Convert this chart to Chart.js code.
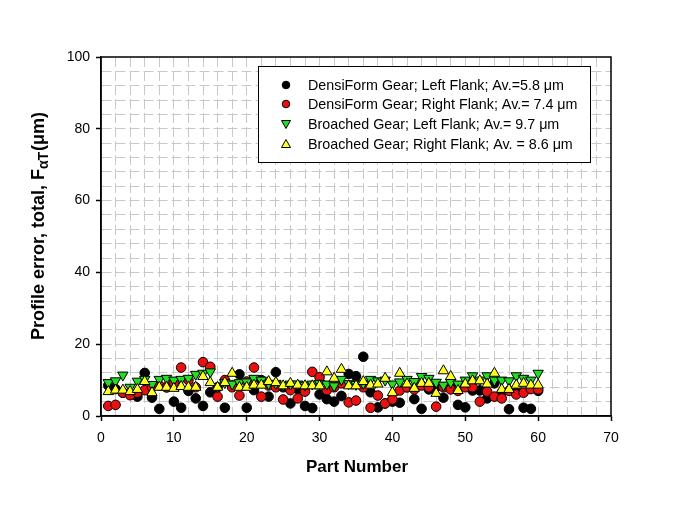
<!DOCTYPE html>
<html>
<head>
<meta charset="utf-8">
<script src="https://cdn.jsdelivr.net/npm/chart.js@4/dist/chart.umd.min.js"></script>
<style>
html,body{margin:0;padding:0;background:#fff;}
#wrap{width:684px;height:509px;}
</style>
</head>
<body>
<div id="wrap"><canvas id="c" width="684" height="509"></canvas></div>
<script>
const partNumbers = Array.from({length: 60}, (_, i) => i + 1);
const densiLeft = [8.5,7.5,6.5,6.0,5.4,12.0,5.1,2.0,8.0,4.0,2.3,7.0,4.9,2.8,6.6,8.0,2.3,8.5,11.6,2.3,7.2,10.0,5.4,12.2,8.0,3.5,7.5,2.8,2.2,6.0,4.7,4.0,5.6,11.7,11.1,16.5,6.6,2.4,3.5,4.0,3.7,8.0,4.7,2.0,7.4,8.0,5.1,8.0,3.1,2.4,7.1,7.1,4.9,9.1,6.5,1.9,7.5,2.3,2.0,7.0];
const densiRight = [2.8,3.1,6.5,5.8,6.5,7.2,8.0,8.5,8.0,9.3,13.5,10.0,8.0,15.0,13.7,5.4,10.0,8.0,5.7,9.6,13.5,5.4,8.5,8.0,4.6,7.2,4.9,6.8,12.3,10.8,7.2,8.0,9.1,3.8,4.3,8.0,2.3,5.7,3.5,4.6,7.1,8.0,7.4,8.5,8.0,2.6,8.0,7.4,7.0,8.0,8.0,4.0,6.8,5.4,4.9,7.0,6.0,6.5,7.5,7.4];
const broachedLeft = [9.3,9.8,11.4,8.0,9.7,10.2,8.8,10.2,10.5,10.0,10.2,10.5,11.6,11.9,12.3,8.2,9.3,8.9,9.3,9.5,10.5,10.0,9.0,9.1,8.6,8.9,8.9,8.6,8.9,9.1,8.9,8.4,10.2,9.0,8.8,9.1,10.2,9.8,10.0,8.9,9.5,10.2,9.6,11.0,10.5,9.4,8.6,9.4,8.9,10.0,11.2,10.0,11.2,10.0,10.0,9.8,11.2,10.5,10.0,11.9];
const broachedRight = [6.8,7.2,7.2,6.8,7.4,9.6,6.5,8.0,8.0,7.7,8.2,8.0,8.0,11.0,9.3,8.0,9.3,11.9,8.0,8.0,8.6,8.6,9.6,9.3,8.4,9.1,8.6,8.4,8.4,8.4,12.3,10.5,13.0,8.4,8.4,9.6,8.6,8.9,10.5,6.5,11.9,8.9,7.7,9.1,9.1,6.3,12.6,11.0,7.1,8.9,9.8,9.8,8.9,11.9,7.4,7.4,8.6,9.1,8.6,8.6];
const seriesLabels = [
  "DensiForm Gear; Left Flank; Av.=5.8 μm",
  "DensiForm Gear; Right Flank; Av.= 7.4 μm",
  "Broached Gear; Left Flank; Av.= 9.7 μm",
  "Broached Gear; Right Flank; Av. = 8.6 μm"
];
const xTitle = "Part Number";
const yTitleParts = ["Profile error, total, F", "αT", "(μm)"];

const FONT = "'Liberation Sans', Arial, sans-serif";
Chart.defaults.font.family = FONT;
Chart.defaults.color = '#000';

function pts(arr){ return arr.map((v,i)=>({x: partNumbers[i], y: v})); }

const styles = [
  {bg:'#000000', style:'circle', r:4.8, rot:0},
  {bg:'#e81010', style:'circle', r:4.8, rot:0},
  {bg:'#22dd22', style:'triangle', r:6, rot:180},
  {bg:'#ffff22', style:'triangle', r:6, rot:0}
];
const allData = [densiLeft, densiRight, broachedLeft, broachedRight];

const datasets = allData.map((d, i) => ({
  label: seriesLabels[i],
  data: pts(d),
  backgroundColor: styles[i].bg,
  borderColor: '#000',
  borderWidth: 1,
  pointStyle: styles[i].style,
  pointRadius: styles[i].r,
  pointRotation: styles[i].rot,
  order: 4 - i
}));

const framePlugin = {
  id: 'frame',
  afterDraw(chart) {
    const ctx = chart.ctx, a = chart.chartArea;
    ctx.save();
    ctx.strokeStyle = '#000';
    ctx.lineWidth = 1.5;
    ctx.strokeRect(a.left, a.top, a.right - a.left, a.bottom - a.top);

    // legend box
    const lx = 258, ly = 66, lw = 332, lh = 96;
    ctx.fillStyle = '#fff';
    ctx.fillRect(lx, ly, lw, lh);
    ctx.lineWidth = 1;
    ctx.strokeStyle = '#000';
    ctx.strokeRect(lx + 0.5, ly + 0.5, lw, lh);
    const rows = [85, 104, 124, 144];
    ctx.font = '14.3px ' + FONT;
    ctx.textBaseline = 'middle';
    ctx.textAlign = 'left';
    for (let i = 0; i < 4; i++) {
      const cx = 286, cy = rows[i];
      ctx.fillStyle = styles[i].bg;
      ctx.strokeStyle = '#000';
      ctx.lineWidth = 1;
      ctx.beginPath();
      if (styles[i].style === 'circle') {
        ctx.arc(cx, cy, 3.8, 0, Math.PI * 2);
      } else if (styles[i].rot === 180) {
        ctx.moveTo(cx - 4.5, cy - 3.5); ctx.lineTo(cx + 4.5, cy - 3.5); ctx.lineTo(cx, cy + 4.5); ctx.closePath();
      } else {
        ctx.moveTo(cx - 4.5, cy + 3.5); ctx.lineTo(cx + 4.5, cy + 3.5); ctx.lineTo(cx, cy - 4.5); ctx.closePath();
      }
      ctx.fill(); ctx.stroke();
      ctx.fillStyle = '#000';
      ctx.fillText(seriesLabels[i], 308, cy + 1);
    }

    // x title
    ctx.font = 'bold 17px ' + FONT;
    ctx.textAlign = 'center';
    ctx.textBaseline = 'middle';
    ctx.fillText(xTitle, (a.left + a.right) / 2 + 1, 467);

    // y title with subscript
    ctx.translate(38, 0);
    ctx.rotate(-Math.PI / 2);
    ctx.textAlign = 'left';
    ctx.textBaseline = 'alphabetic';
    const big = 'bold 18px ' + FONT, small = 'bold 14px ' + FONT;
    ctx.font = big; const w1 = ctx.measureText(yTitleParts[0]).width;
    ctx.font = small; const w2 = ctx.measureText(yTitleParts[1]).width;
    ctx.font = big; const w3 = ctx.measureText(yTitleParts[2]).width;
    const total = w1 + w2 + w3 + 1;
    let start = -(226 + total / 2);
    ctx.font = big; ctx.fillText(yTitleParts[0], start, 6);
    ctx.font = small; ctx.fillText(yTitleParts[1], start + w1, 10);
    ctx.font = big; ctx.fillText(yTitleParts[2], start + w1 + w2 + 1, 6);
    ctx.restore();
  }
};

new Chart(document.getElementById('c'), {
  type: 'scatter',
  data: { datasets },
  options: {
    responsive: false,
    animation: false,
    devicePixelRatio: 1,
    layout: { padding: { top: 57, right: 73, left: 0, bottom: 0 } },
    plugins: { legend: { display: false }, tooltip: { enabled: false } },
    scales: {
      x: {
        type: 'linear', min: 0, max: 70,
        afterFit(s) { s.height = 93; },
        ticks: {
          stepSize: 2, autoSkip: false, maxRotation: 0, padding: 9,
          font: { size: 14 }, color: '#000',
          callback: v => (v % 10 === 0 ? String(v) : '')
        },
        grid: {
          color: c => (c.tick && (c.tick.value === 0 || c.tick.value === 70)) ? 'rgba(0,0,0,0)' : '#c8c8c8',
          lineWidth: 1,
          tickColor: c => (c.tick && c.tick.value % 10 === 0) ? '#000' : 'rgba(0,0,0,0)',
          tickLength: 5, tickWidth: 1.5, tickBorderDash: []
        },
        border: { display: true, color: '#000', width: 1.5, dash: [10, 4] }
      },
      y: {
        type: 'linear', min: 0, max: 100,
        afterFit(s) { s.width = 101; },
        ticks: {
          stepSize: 4, autoSkip: false, padding: 6,
          font: { size: 14 }, color: '#000',
          callback: v => (v % 20 === 0 ? String(v) : '')
        },
        grid: {
          color: c => (c.tick && (c.tick.value === 0 || c.tick.value === 100)) ? 'rgba(0,0,0,0)' : '#c8c8c8',
          lineWidth: 1,
          tickColor: c => (c.tick && c.tick.value % 20 === 0) ? '#000' : 'rgba(0,0,0,0)',
          tickLength: 5, tickWidth: 1.5, tickBorderDash: []
        },
        border: { display: true, color: '#000', width: 1.5, dash: [10, 4] }
      }
    }
  },
  plugins: [framePlugin]
});
</script>
</body>
</html>
